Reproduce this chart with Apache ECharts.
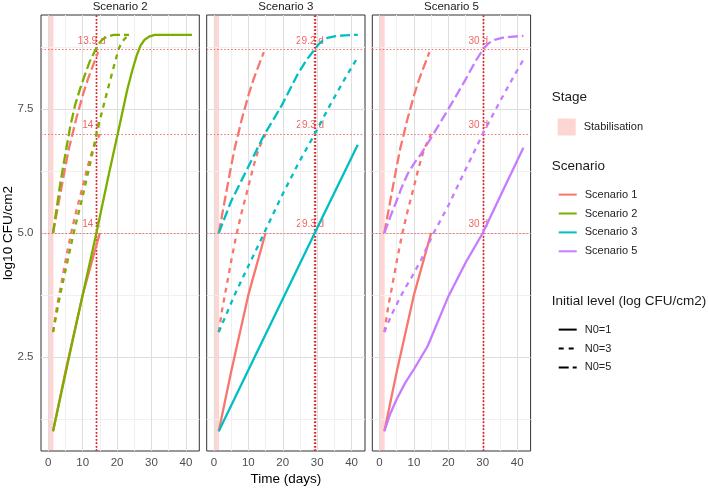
<!DOCTYPE html>
<html lang="en">
<head>
<meta charset="UTF-8" />
<title>Growth scenarios</title>
<script src="https://cdn.jsdelivr.net/npm/echarts/dist/echarts.min.js"></script>
<style>
  html, body { margin: 0; padding: 0; background: #fff; }
  #chart { width: 709px; height: 490px; }
</style>
</head>
<body>
<div id="chart"></div>
<script>
// facets and legend entries
const panels = ["Scenario 2", "Scenario 3", "Scenario 5"];
const scenarioNames = ["Scenario 1", "Scenario 2", "Scenario 3", "Scenario 5"];
const levelNames = ["N0=1", "N0=3", "N0=5"];
const stageName = "Stabilisation";
const stabilisation = [0, 1.5]; // days

// axis ticks
const xTicks = [0, 10, 20, 30, 40];
const xMinor = [5, 15, 25, 35];
const yTicks = [2.5, 5.0, 7.5];
const yMinor = [1.25, 3.75, 6.25, 8.75];

// curves: [day, log10 CFU/cm2]
// scenario 1 (reference, drawn in every panel)
const s1_n1 = [[1.4, 1.0], [5, 2.2], [10, 3.75], [15, 5.0]];
const s1_n3 = [[1.4, 3.0], [2.5, 3.5], [4, 4.05], [5.2, 4.5], [6.5, 4.95], [8, 5.4], [9.5, 5.8], [11.5, 6.35], [13, 6.7], [15, 7.0]];
const s1_n5 = [[1.4, 5.0], [3, 5.6], [4.7, 6.24], [6, 6.7], [7, 6.98], [8, 7.27], [9, 7.52], [10.2, 7.82], [11.5, 8.1], [13, 8.38], [14.5, 8.65]];
// scenario 2
const s2_n1 = [[1.4, 1.0], [7, 2.8], [14, 5.0], [17.5, 6.15], [20.5, 7.1], [23, 7.9], [24.5, 8.3], [25.7, 8.58], [26.8, 8.78], [28, 8.9], [29.5, 8.97], [31, 9.0], [41.8, 9.0]];
const s2_n3 = [[1.4, 3.0], [3.5, 3.76], [5.5, 4.4], [7.3, 4.97], [10.2, 5.8], [12.5, 6.5], [14, 7.0], [16, 7.55], [17.5, 7.95], [19.4, 8.45], [20.5, 8.72], [21.5, 8.86], [22.5, 8.94], [23.5, 8.97]];
const s2_n5 = [[1.4, 5.0], [3.5, 6.0], [5, 6.6], [6.4, 7.15], [7.8, 7.58], [9.3, 7.92], [10.7, 8.2], [12, 8.45], [13.9, 8.72], [15, 8.85], [16.2, 8.93], [17.5, 8.97], [19, 9.0], [23.5, 9.0]];
// scenario 3
const s3_n1 = [[1.4, 1.0], [15, 2.95], [29.3, 5.0], [41.8, 6.78]];
const s3_n3 = [[1.4, 3.0], [6, 3.75], [10.8, 4.45], [14.6, 5.0], [19.5, 5.72], [24.5, 6.4], [29.3, 7.0], [33.5, 7.55], [37.5, 8.05], [41.8, 8.55]];
const s3_n5 = [[1.4, 5.0], [5, 5.64], [9.8, 6.31], [14.6, 6.98], [19.5, 7.55], [24.3, 8.2], [27, 8.5], [29.2, 8.7], [30.3, 8.8], [31.5, 8.88], [33, 8.94], [35, 8.97], [38, 8.99], [41.8, 9.0]];
// scenario 5
const s5_n1 = [[1.4, 1.0], [3, 1.33], [5, 1.65], [7.5, 1.98], [10, 2.25], [14, 2.72], [20, 3.72], [25, 4.4], [30, 5.0], [36, 5.88], [41.8, 6.72]];
const s5_n3 = [[1.4, 3.0], [3.5, 3.35], [5.4, 3.62], [7.3, 3.87], [9.2, 4.09], [12.1, 4.46], [15.5, 4.97], [19.9, 5.54], [24.7, 6.24], [30, 7.0], [34.4, 7.58], [38.2, 8.06], [41.8, 8.5]];
const s5_n5 = [[1.4, 5.0], [3.2, 5.34], [4.9, 5.64], [6.6, 5.95], [8.3, 6.21], [10.2, 6.42], [12.1, 6.6], [15.5, 6.98], [19.9, 7.49], [24.7, 8.06], [28, 8.48], [30, 8.7], [31.7, 8.83], [33.4, 8.9], [36.3, 8.95], [41.8, 8.98]];

// time to reach each target level, per panel
const targetLevels = [8.7, 7.0, 5.0];
const days_s2 = [13.9, 14, 14];
const days_s3 = [29.2, 29.3, 29.3];
const days_s5 = [30, 30, 30];

// styles
const colors = ["#F8766D", "#7CAE00", "#00BFC4", "#C77CFF"];
const dashes = ["solid", [5, 5], [10, 4]];
const stageColor = "rgba(248,118,109,0.3)";
const font = "Liberation Sans, Arial, sans-serif";

const baseline = [s1_n1, s1_n3, s1_n5];
const curves = [[s2_n1, s2_n3, s2_n5], [s3_n1, s3_n3, s3_n5], [s5_n1, s5_n3, s5_n5]];
const reachDays = [days_s2, days_s3, days_s5];
const panelLeft = [41, 206.7, 372.3];
const panelW = 158.3, panelTop = 15, panelH = 436;

const grids = [], xAxes = [], yAxes = [], series = [];

const majorLine = { type: "solid", color: "#dedede", width: 1 };
const minorLine = { type: "solid", color: "#f0f0f0", width: 1 };
const hRef = { type: [1.5, 2], color: "#f26d6d", width: 1 };
const vRef = { type: [1.5, 2], color: "#e0262b", width: 1.3 };
const gridMarks = [].concat(
  xMinor.map((v) => ({ xAxis: v, lineStyle: minorLine })),
  yMinor.map((v) => ({ yAxis: v, lineStyle: minorLine })),
  xTicks.map((v) => ({ xAxis: v, lineStyle: majorLine })),
  yTicks.map((v) => ({ yAxis: v, lineStyle: majorLine }))
);

panels.forEach((p, i) => {
  grids.push({
    left: panelLeft[i], top: panelTop, width: panelW, height: panelH,
    outerBoundsMode: "none", containLabel: false,
    show: true, backgroundColor: "#fff", borderColor: "#333", borderWidth: 1,
  });
  xAxes.push({
    type: "value", gridIndex: i, min: -2.1, max: 43.9,
    axisLine: { show: false }, axisTick: { show: false }, splitLine: { show: false },
    axisLabel: { customValues: xTicks, color: "#4d4d4d", fontSize: 11.5, margin: 6, fontFamily: font },
    name: i === 1 ? "Time (days)" : "", nameLocation: "middle", nameGap: 21, nameMoveOverlap: false,
    nameTextStyle: { fontSize: 13.5, color: "#000", fontFamily: font },
  });
  yAxes.push({
    type: "value", gridIndex: i, min: 0.6, max: 9.4,
    axisLine: { show: false }, axisTick: { show: false }, splitLine: { show: false },
    axisLabel: {
      show: i === 0, customValues: yTicks, color: "#4d4d4d", fontSize: 11.5, margin: 7.5,
      fontFamily: font, formatter: (v) => v.toFixed(1),
    },
    name: i === 0 ? "log10 CFU/cm2" : "", nameLocation: "middle", nameGap: 25.5, nameMoveOverlap: false,
    nameTextStyle: { fontSize: 13.5, color: "#000", fontFamily: font },
  });

  // background grid lines
  series.push({
    type: "line", name: "grid" + i, xAxisIndex: i, yAxisIndex: i, data: [], silent: true, z: 1,
    markLine: { silent: true, symbol: ["none", "none"], label: { show: false }, animation: false,
      emphasis: { disabled: true }, data: gridMarks },
  });
  // stabilisation stage band
  series.push({
    type: "line", name: "band" + i, xAxisIndex: i, yAxisIndex: i, data: [], silent: true, z: 2,
    markArea: { silent: true, itemStyle: { color: stageColor }, animation: false,
      data: [[{ xAxis: stabilisation[0] }, { xAxis: stabilisation[1] }]] },
  });
  // reference lines for the target levels
  const refMarks = [].concat(
    targetLevels.map((v) => ({ yAxis: v, lineStyle: hRef })),
    reachDays[i].map((d) => ({ xAxis: d, lineStyle: vRef }))
  );
  series.push({
    type: "line", name: "ref" + i, xAxisIndex: i, yAxisIndex: i, data: [], silent: true, z: 3,
    markLine: { silent: true, symbol: ["none", "none"], label: { show: false }, animation: false,
      emphasis: { disabled: true }, data: refMarks },
  });
  // annotations "xx d"
  series.push({
    type: "scatter", name: "lab" + i, xAxisIndex: i, yAxisIndex: i, symbolSize: 0, silent: true, z: 4,
    data: targetLevels.map((v, k) => ({ value: [reachDays[i][k], v], label: { formatter: reachDays[i][k] + " d" } })),
    label: { show: true, position: "inside", offset: [-4.5, -8.5], color: "#ee3b3b", fontSize: 10, fontFamily: font },
  });
  // scenario 1 curves, then this panel's scenario
  const sets = [[baseline, colors[0]], [curves[i], colors[i + 1]]];
  sets.forEach(([arr, col], s) => {
    arr.forEach((d, k) => {
      series.push({
        type: "line", name: panels[i] + "-" + s + "-" + k, xAxisIndex: i, yAxisIndex: i,
        data: d, showSymbol: false, symbol: "none", smooth: false,
        silent: true, z: 5, color: col,
        lineStyle: { color: col, width: 2.3, type: dashes[k], join: "round" },
      });
    });
  });
});

// empty series used only by the legends
series.push({ type: "line", name: stageName, data: [], color: stageColor });
scenarioNames.forEach((n, k) => {
  series.push({ type: "line", name: n, data: [], symbol: "none", color: colors[k], lineStyle: { width: 2.2 } });
});
levelNames.forEach((n, k) => {
  series.push({ type: "line", name: n, data: [], symbol: "none", color: "#000", lineStyle: { width: 2.2, type: dashes[k] } });
});

const legendBase = {
  orient: "vertical", left: 552.7, itemWidth: 18, itemHeight: 14, itemGap: 7.7,
  textStyle: { fontSize: 11, color: "#222", fontFamily: font, padding: [0, 0, 0, 3] },
  itemStyle: { opacity: 0 }, selectedMode: false,
};

const titleText = (text, x, y, size, align) => ({
  type: "text", x: x, y: y, silent: true,
  style: { text: text, fontSize: size, fontFamily: font, fill: "#1a1a1a", align: align, verticalAlign: "middle" },
});

const option = {
  animation: false,
  backgroundColor: "#fff",
  textStyle: { fontFamily: font },
  grid: grids,
  xAxis: xAxes,
  yAxis: yAxes,
  legend: [
    Object.assign({}, legendBase, {
      top: 113.5, itemHeight: 17,
      data: [{ name: stageName, icon: "rect", itemStyle: { color: stageColor, opacity: 1 } }],
    }),
    Object.assign({}, legendBase, { top: 184, data: scenarioNames }),
    Object.assign({}, legendBase, { top: 319, data: levelNames }),
  ],
  graphic: [].concat(
    panels.map((p, i) => titleText(p, panelLeft[i] + panelW / 2, 6.5, 11.5, "center")),
    [
      titleText("Stage", 551.7, 97, 13.5, "left"),
      titleText("Scenario", 551.7, 166.7, 13.5, "left"),
      titleText("Initial level (log CFU/cm2)", 551.7, 301.7, 13.5, "left"),
    ]
  ),
  series: series,
};

const chart = echarts.init(document.getElementById("chart"));
chart.setOption(option);
</script>
</body>
</html>
